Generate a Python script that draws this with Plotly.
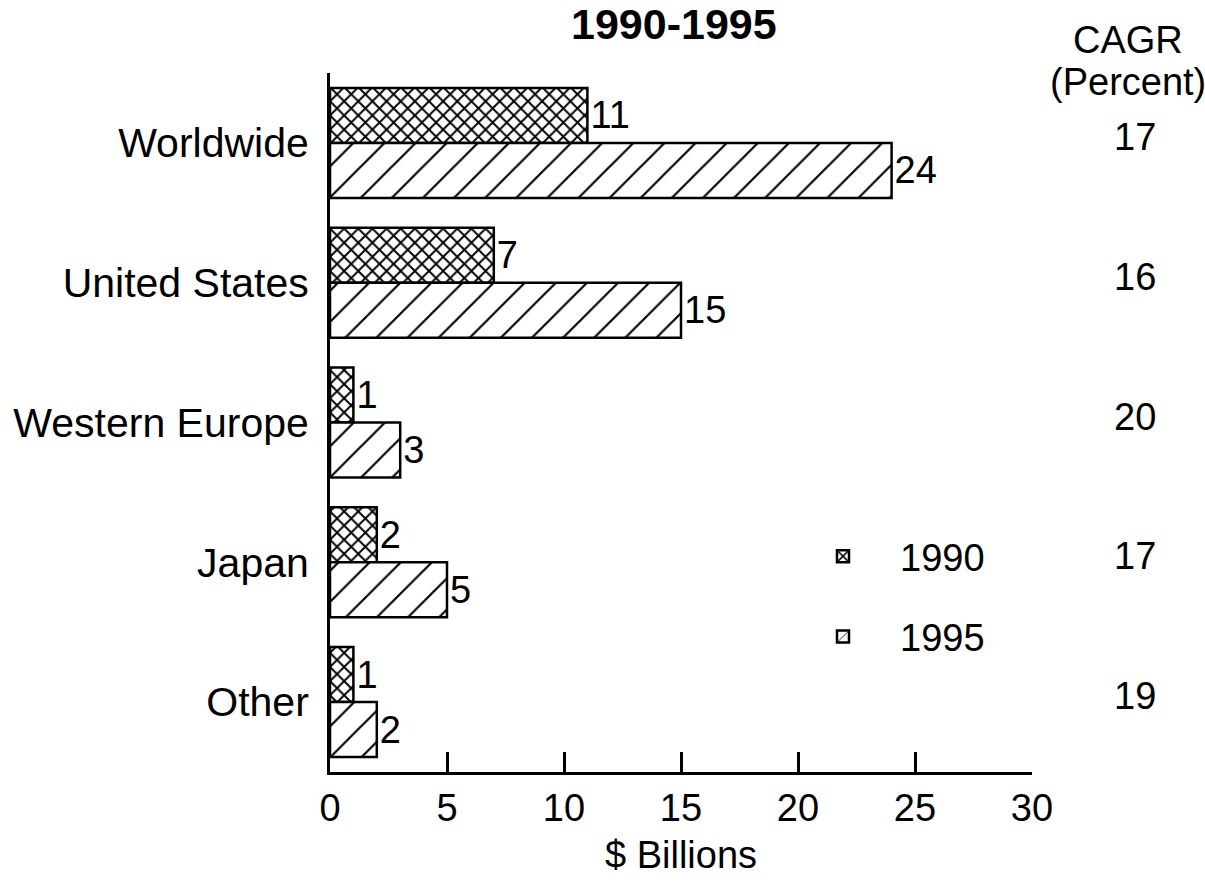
import plotly.graph_objects as go

# Revenue by region, $ billions
regions = ["Worldwide", "United States", "Western Europe", "Japan", "Other"]
revenue_1990 = [11, 7, 1, 2, 1]
revenue_1995 = [24, 15, 3, 5, 2]
cagr_percent = [17, 16, 20, 17, 19]
x_ticks = [0, 5, 10, 15, 20, 25, 30]

FONT = "Liberation Sans, Arial, Helvetica, sans-serif"
FS = 38

fig = go.Figure()

fig.add_trace(go.Bar(
    y=regions, x=revenue_1990, orientation="h", name="1990",
    legendgroup="a",
    marker=dict(color="white",
                line=dict(color="black", width=2.5),
                pattern=dict(shape="x", size=10, solidity=0.35,
                             fgcolor="black", bgcolor="white", fillmode="replace")),
    text=[str(v) for v in revenue_1990], textposition="outside",
    textfont=dict(family=FONT, size=FS, color="black"),
    cliponaxis=False,
))
fig.add_trace(go.Bar(
    y=regions, x=revenue_1995, orientation="h", name="1995",
    legendgroup="b",
    marker=dict(color="white",
                line=dict(color="black", width=2.5),
                pattern=dict(shape="/", size=22, solidity=0.1,
                             fgcolor="black", bgcolor="white", fillmode="replace")),
    text=[str(v) for v in revenue_1995], textposition="outside",
    textfont=dict(family=FONT, size=FS, color="black"),
    cliponaxis=False,
))

annotations = [
    dict(text="<b>1990-1995</b>", xref="paper", yref="paper", x=0.49, y=1,
         xanchor="center", yanchor="top", yshift=75, showarrow=False,
         font=dict(family=FONT, size=43, color="black")),
    dict(text="CAGR", xref="paper", yref="paper", x=(1128 - 330) / 702,
         y=(772 - 40) / 699, xanchor="center", yanchor="middle",
         showarrow=False, font=dict(family=FONT, size=FS, color="black")),
    dict(text="(Percent)", xref="paper", yref="paper", x=(1128 - 330) / 702,
         y=(772 - 82) / 699, xanchor="center", yanchor="middle",
         showarrow=False, font=dict(family=FONT, size=FS, color="black")),
]
for region, c in zip(regions, cagr_percent):
    annotations.append(dict(
        text=str(c), xref="paper", yref="y", x=(1135 - 330) / 702, y=region,
        xanchor="center", yanchor="middle", yshift=6, showarrow=False,
        font=dict(family=FONT, size=FS, color="black")))

fig.update_layout(
    width=1205, height=884,
    margin=dict(l=330, r=173, t=73, b=112),
    paper_bgcolor="white", plot_bgcolor="white",
    barmode="group", bargap=0.213, bargroupgap=0,
    font=dict(family=FONT, size=FS, color="black"),
    showlegend=True,
    legend=dict(x=(786 - 330) / 702, y=(772 - 525) / 699,
                xanchor="left", yanchor="top",
                bgcolor="rgba(0,0,0,0)", borderwidth=0,
                traceorder="grouped", tracegroupgap=28,
                itemwidth=104,
                font=dict(family=FONT, size=FS, color="black")),
    xaxis=dict(range=[0, 30], tickvals=x_ticks, ticktext=[str(t) for t in x_ticks],
               showgrid=False, zeroline=False, showline=True, linecolor="black",
               linewidth=3, ticks="inside", ticklen=20, tickwidth=2.5,
               tickcolor="black", ticklabelstandoff=0,
               tickfont=dict(family=FONT, size=FS, color="black"),
               title=dict(text="$ Billions", standoff=14,
                          font=dict(family=FONT, size=FS, color="black"))),
    yaxis=dict(autorange="reversed", showgrid=False, zeroline=False,
               showline=True, linecolor="black", linewidth=3, ticks="",
               ticklabelstandoff=10,
               tickfont=dict(family=FONT, size=41, color="black")),
    annotations=annotations,
)

fig.write_html("out.html")
